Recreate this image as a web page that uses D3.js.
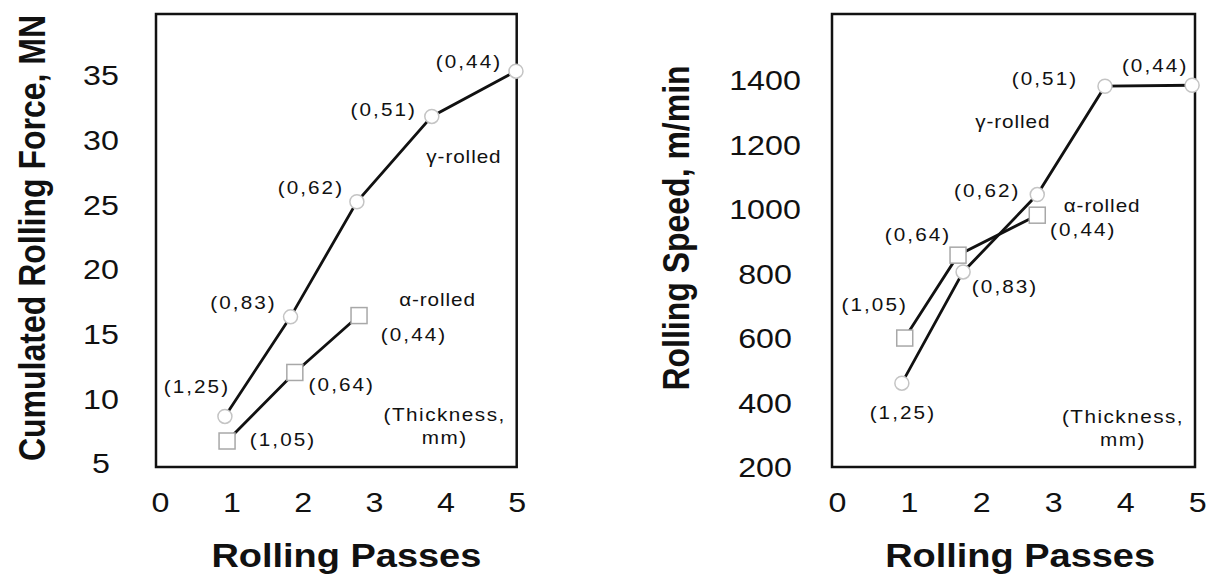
<!DOCTYPE html>
<html>
<head>
<meta charset="utf-8">
<script src="https://cdn.jsdelivr.net/npm/d3@7"></script>
<style>
  html, body { margin: 0; padding: 0; background: #fff; }
  svg { display: block; font-family: "Liberation Sans", Arial, Helvetica, sans-serif; }
</style>
</head>
<body>
<svg id="chart" width="1223" height="576"></svg>
<script>
// ---------------- data ----------------
const passTicks = [0, 1, 2, 3, 4, 5];
const forceTicks = [5, 10, 15, 20, 25, 30, 35];
const speedTicks = [200, 400, 600, 800, 1000, 1200, 1400];

// Left panel: cumulated rolling force (MN)
const forcePassesGamma = [0.91, 1.83, 2.76, 3.81, 4.99];
const forceGamma = [8.6, 16.3, 25.2, 31.8, 35.3];
const forcePassesAlpha = [0.94, 1.89, 2.79];
const forceAlpha = [6.7, 12.0, 16.4];

// Right panel: rolling speed (m/min)
const speedPassesGamma = [0.90, 1.75, 2.78, 3.72, 4.93];
const speedGamma = [460, 805, 1045, 1381, 1384];
const speedPassesAlpha = [0.94, 1.68, 2.78];
const speedAlpha = [600, 857, 981];

// thickness labels (mm)
const thickGamma = ["(1,25)", "(0,83)", "(0,62)", "(0,51)", "(0,44)"];
const thickAlpha = ["(1,05)", "(0,64)", "(0,44)"];

const xTitle = "Rolling Passes";
const forceTitle = "Cumulated Rolling Force, MN";
const speedTitle = "Rolling Speed, m/min";
const gammaName = "\u03B3-rolled";
const alphaName = "\u03B1-rolled";
const noteLines = ["(Thickness,", "mm)"];

// ---------------- layout / style ----------------
const SX = 1.15; // horizontal stretch of the original figure's text
const svg = d3.select("#chart");

function stretchedText(g, x, y, txt, opts) {
  return g.append("text")
    .attr("transform", `translate(${x},${y}) scale(${SX},1)`)
    .attr("text-anchor", opts.anchor || "middle")
    .attr("dy", "0.35em")
    .attr("font-size", opts.size)
    .attr("font-weight", opts.weight || "normal")
    .attr("letter-spacing", opts.ls || 0)
    .attr("fill", "#111")
    .text(txt);
}

function panel(cfg) {
  const g = svg.append("g");
  const x = d3.scaleLinear().domain(cfg.xDomain).range([cfg.left, cfg.right]);
  const y = d3.scaleLinear().domain(cfg.yDomain).range([cfg.bottom, cfg.top]);

  // Y tick labels (no tick marks), centred in a column left of the frame
  const yAxis = g.append("g")
    .attr("transform", `translate(${cfg.left},0)`)
    .call(d3.axisLeft(y).tickValues(cfg.yTicks).tickSize(0).tickFormat(d3.format("d")));
  yAxis.select(".domain").remove();
  yAxis.selectAll("text")
    .attr("text-anchor", "middle")
    .attr("x", 0).attr("dy", "0.35em")
    .attr("transform", `translate(${-cfg.yLabelOffset},0) scale(${SX},1)`)
    .attr("font-size", 28)
    .attr("font-family", "Liberation Sans, Arial, sans-serif")
    .attr("fill", "#111");

  // X tick labels
  const xAxis = g.append("g")
    .attr("transform", `translate(0,${cfg.bottom})`)
    .call(d3.axisBottom(x).tickValues(passTicks).tickSize(0).tickFormat(d3.format("d")));
  xAxis.select(".domain").remove();
  xAxis.selectAll("text")
    .attr("text-anchor", "middle")
    .attr("y", 0).attr("dy", "0.35em")
    .attr("transform", `translate(0,35) scale(${SX},1)`)
    .attr("font-size", 28)
    .attr("font-family", "Liberation Sans, Arial, sans-serif")
    .attr("fill", "#111");

  // Frame
  g.append("rect")
    .attr("x", x(cfg.xDomain[0])).attr("y", y(cfg.yDomain[1]))
    .attr("width", x(cfg.xDomain[1]) - x(cfg.xDomain[0]))
    .attr("height", y(cfg.yDomain[0]) - y(cfg.yDomain[1]))
    .attr("fill", "none").attr("stroke", "#111").attr("stroke-width", 2.5);

  const line = d3.line().x(d => x(d[0])).y(d => y(d[1]));

  // Series lines
  const gammaPts = cfg.gx.map((v, i) => [v, cfg.gy[i]]);
  const alphaPts = cfg.ax.map((v, i) => [v, cfg.ay[i]]);
  g.append("path").datum(gammaPts).attr("d", line)
    .attr("fill", "none").attr("stroke", "#111").attr("stroke-width", 2.8);
  g.append("path").datum(alphaPts).attr("d", line)
    .attr("fill", "none").attr("stroke", "#111").attr("stroke-width", 2.8);

  // Markers: gamma circles, alpha squares (faint, white-filled)
  g.selectAll(".gm").data(gammaPts).join("circle")
    .attr("cx", d => x(d[0])).attr("cy", d => y(d[1])).attr("r", 7)
    .attr("fill", "#fff").attr("stroke", "#c4c4c4").attr("stroke-width", 1.5);
  g.selectAll(".am").data(alphaPts).join("rect")
    .attr("x", d => x(d[0]) - 8).attr("y", d => y(d[1]) - 8)
    .attr("width", 16).attr("height", 16)
    .attr("fill", "#fff").attr("stroke", "#a8a8a8").attr("stroke-width", 1.5);

  // Thickness labels
  gammaPts.forEach((d, i) => {
    const o = cfg.gOff[i];
    stretchedText(g, x(d[0]) + o[0], y(d[1]) + o[1], thickGamma[i], {size: 18, ls: 1.8});
  });
  alphaPts.forEach((d, i) => {
    const o = cfg.aOff[i];
    stretchedText(g, x(d[0]) + o[0], y(d[1]) + o[1], thickAlpha[i], {size: 18, ls: 1.8});
  });

  // Series names and note
  stretchedText(g, x(cfg.gName[0]), y(cfg.gName[1]), gammaName, {size: 18, ls: 0.8});
  stretchedText(g, x(cfg.aName[0]), y(cfg.aName[1]), alphaName, {size: 18, ls: 0.8});
  stretchedText(g, x(cfg.note[0]), y(cfg.note[1]), noteLines[0], {size: 18, ls: 1.3});
  stretchedText(g, x(cfg.note[0]), y(cfg.note[1]) + 23, noteLines[1], {size: 18, ls: 1.3});

  // Axis titles
  stretchedText(g, (x(0) + x(5)) / 2 + cfg.xTitleShift, 555, xTitle, {size: 33, weight: "bold"});
  g.append("text")
    .attr("transform", `translate(${cfg.yTitleX},${cfg.yTitleY}) rotate(-90) scale(1,${SX})`)
    .attr("text-anchor", "middle").attr("dy", "0.35em")
    .attr("font-size", 32).attr("font-weight", "bold").attr("fill", "#111")
    .text(cfg.yTitle);
}

panel({
  left: 156, right: 516.7, top: 14, bottom: 467,
  xDomain: [-0.056, 5.0], yDomain: [4.69, 39.72],
  yTicks: forceTicks, yLabelOffset: 55,
  gx: forcePassesGamma, gy: forceGamma, ax: forcePassesAlpha, ay: forceAlpha,
  gOff: [[-28, -30], [-47, -14], [-46, -14], [-48, -7], [-47, -9]],
  aOff: [[56, -1], [47, 12], [55, 19]],
  gName: [4.26, 28.67], aName: [3.89, 17.6], note: [3.99, 8.7],
  xTitleShift: 8, yTitle: forceTitle, yTitleX: 32, yTitleY: 238
});

panel({
  left: 832, right: 1195, top: 14, bottom: 467,
  xDomain: [-0.07, 4.97], yDomain: [200, 1605],
  yTicks: speedTicks, yLabelOffset: 67,
  gx: speedPassesGamma, gy: speedGamma, ax: speedPassesAlpha, ay: speedAlpha,
  gOff: [[1, 30], [42, 15], [-50, -4], [-60, -8], [-37, -20]],
  aOff: [[-30, -33], [-40, -20], [46, 15]],
  gName: [2.44, 1270], aName: [3.68, 1012], note: [3.97, 355],
  xTitleShift: 3, yTitle: speedTitle, yTitleX: 676, yTitleY: 228
});
</script>
</body>
</html>
